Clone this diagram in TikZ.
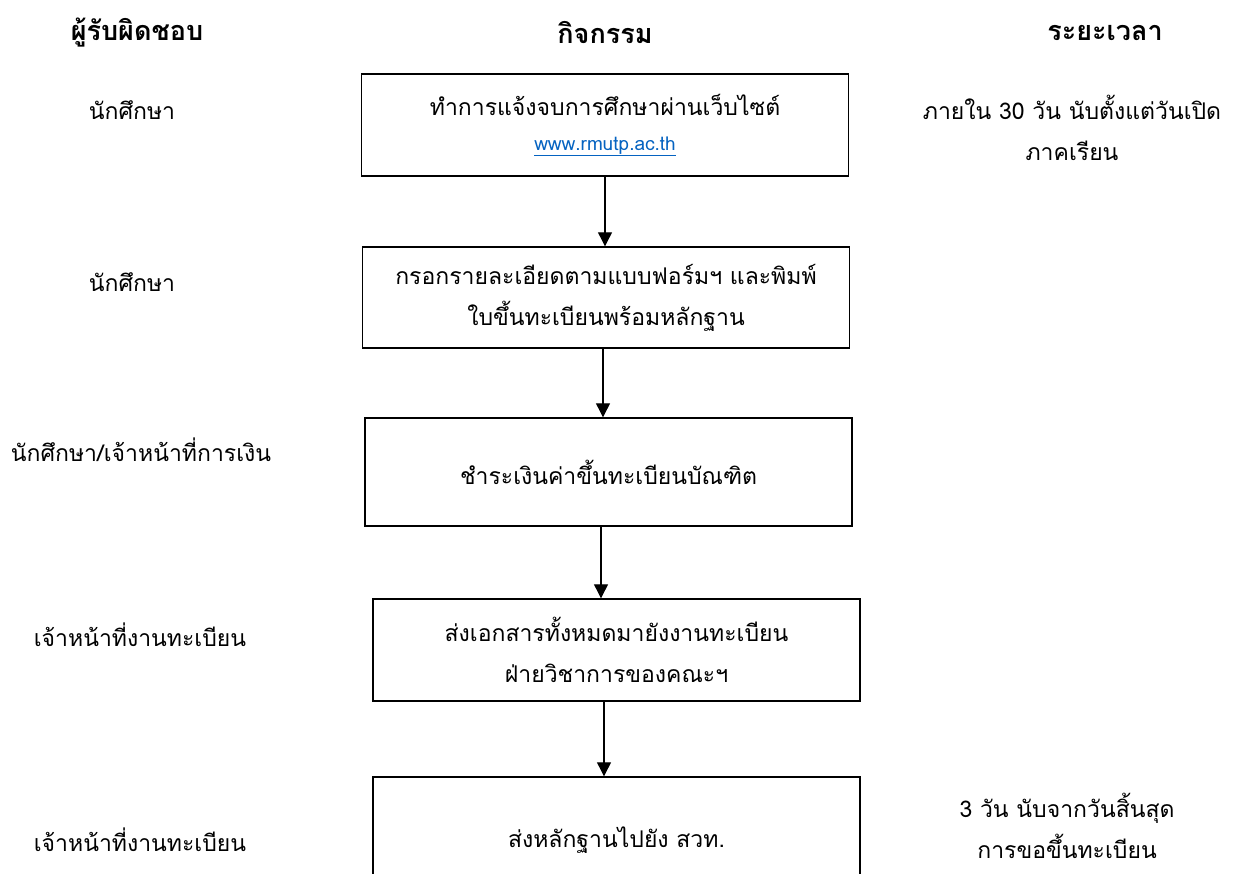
\documentclass[tikz,border=0pt]{standalone}
\usepackage{fontspec}
\usetikzlibrary{arrows.meta}
\newfontfamily\thaifont[Script=Thai]{Loma}
\definecolor{linkblue}{HTML}{0563C1}
\begin{document}
\begin{tikzpicture}[x=1pt,y=-1pt,
  every node/.style={font=\thaifont\fontsize{23}{41}\selectfont, align=center, inner sep=0pt},
  boxnode/.style={draw=black, line width=1.4pt, minimum width=487pt},
  hdr/.style={font=\thaifont\bfseries\fontsize{27}{30}\selectfont},
  arr/.style={draw=black, line width=1.2pt, -{Triangle[width=14pt,length=14pt]}}]
\useasboundingbox (0,0) rectangle (1234,874);
\clip (0,0) rectangle (1234,874);
\fill[white] (0,0) rectangle (1234,874);
% headers
\node[hdr] (h1) at (137,33) {ผู้รับผิดชอบ};
\node[hdr] (h2) at (605,33) {กิจกรรม};
\node[hdr] (h3) at (1105,33) {ระยะเวลา};
% boxes
\node[boxnode, minimum height=102pt] (b1) at (605,125) {ทำการแจ้งจบการศึกษาผ่านเว็บไซต์\\[-6pt]{\fontsize{19}{20}\selectfont\color{linkblue}\underline{www.rmutp.ac.th}}};
\node[boxnode, minimum height=101pt] (b2) at (606,297.5) {กรอกรายละเอียดตามแบบฟอร์มฯ และพิมพ์\\ใบขึ้นทะเบียนพร้อมหลักฐาน};
\node[boxnode, minimum height=108pt] (b3) at (608.5,472) {ชำระเงินค่าขึ้นทะเบียนบัณฑิต};
\node[boxnode, minimum height=102pt] (b4) at (616.5,650) {ส่งเอกสารทั้งหมดมายังงานทะเบียน\\ฝ่ายวิชาการของคณะฯ};
\node[boxnode, minimum height=126pt] (b5) at (616.5,840) {ส่งหลักฐานไปยัง สวท.};
% arrows
\draw[arr] (b1.south) -- (b2.north -| b1.south);
\draw[arr] ([xshift=-3pt]b2.south) -- ([xshift=-5.5pt]b3.north);
\draw[arr] ([xshift=-7.5pt]b3.south) -- ([xshift=-15.5pt]b4.north);
\draw[arr] ([xshift=-12.5pt]b4.south) -- ([xshift=-12.5pt]b5.north);
% left column
\node (l1) at (132,110) {นักศึกษา};
\node (l2) at (132,282) {นักศึกษา};
\node (l3) at (141,450) {นักศึกษา/เจ้าหน้าที่การเงิน};
\node (l4) at (140,635) {เจ้าหน้าที่งานทะเบียน};
\node (l5) at (140,840) {เจ้าหน้าที่งานทะเบียน};
% right column
\node (r1) at (1072,128) {ภายใน 30 วัน นับตั้งแต่วันเปิด\\ภาคเรียน};
\node (r5) at (1067,826) {3 วัน นับจากวันสิ้นสุด\\การขอขึ้นทะเบียน};
\end{tikzpicture}
\end{document}
